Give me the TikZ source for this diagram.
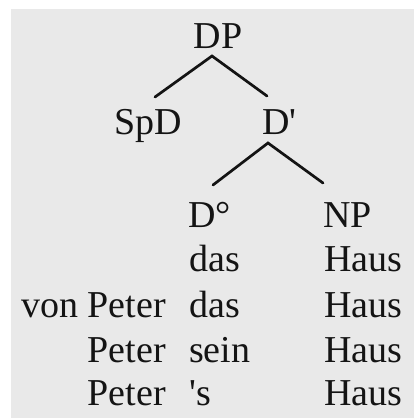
\documentclass[tikz,border=0pt]{standalone}
\usepackage{fontspec}
\newfontfamily\treefont{Liberation Serif}
\definecolor{panel}{RGB}{233,233,233}
\definecolor{ink}{RGB}{20,20,20}
\begin{document}
\begin{tikzpicture}[x=1pt,y=-1pt,
  lbl/.style={inner sep=0pt,text=ink,font=\treefont\fontsize{38}{40}\selectfont},
  edge/.style={draw=ink,line width=2.7pt,line cap=round}]
\useasboundingbox (0,0) rectangle (414,418);
\fill[panel] (11,9) rectangle (414,418);
% tree labels
\node[lbl,anchor=base] (DP) at (218,48) {DP};
\node[lbl,anchor=base] (SpD) at (148.5,134) {SpD};
\node[lbl,anchor=base west] (Dbar) at (262,134) {D'};
\node[lbl,anchor=base west] (D0) at (188,227) {D°};
\node[lbl,anchor=base west] (NP) at (323,227) {NP};
% branch joints
\coordinate (dpfoot) at (212,56);
\coordinate (spdtop) at (155,97);
\coordinate (dbartop) at (267,96);
\coordinate (dbarfoot) at (268,143);
\coordinate (d0top) at (213,185);
\coordinate (nptop) at (323,183);
\draw[edge] (spdtop) -- (dpfoot) -- (dbartop);
\draw[edge] (d0top) -- (dbarfoot) -- (nptop);
% example rows
\node[lbl,anchor=base west] (r1d) at (189,271) {das};
\node[lbl,anchor=base west] (r1n) at (324,271) {Haus};
\node[lbl,anchor=base east] (r2s) at (166,317) {von Peter};
\node[lbl,anchor=base west] (r2d) at (189,317) {das};
\node[lbl,anchor=base west] (r2n) at (324,317) {Haus};
\node[lbl,anchor=base east] (r3s) at (166,362) {Peter};
\node[lbl,anchor=base west] (r3d) at (189,362) {sein};
\node[lbl,anchor=base west] (r3n) at (324,362) {Haus};
\node[lbl,anchor=base east] (r4s) at (166,405) {Peter};
\node[lbl,anchor=base west] (r4d) at (189,405) {'s};
\node[lbl,anchor=base west] (r4n) at (324,405) {Haus};
\end{tikzpicture}
\end{document}
